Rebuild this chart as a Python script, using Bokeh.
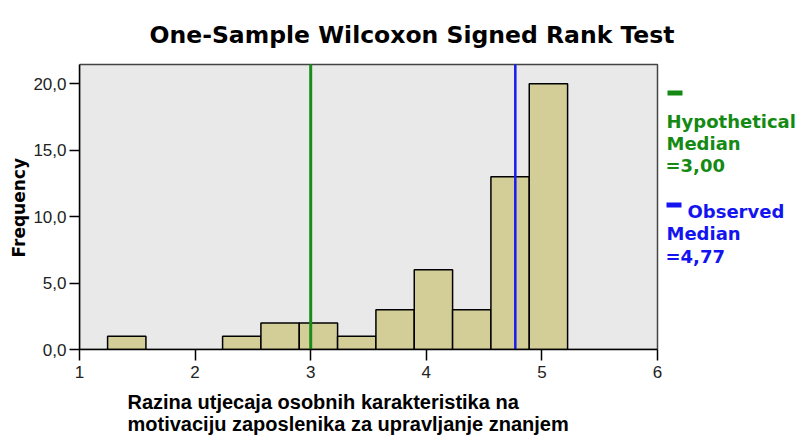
from bokeh.plotting import figure
from bokeh.models import Range1d, FixedTicker, Label, BoxAnnotation, Title
from bokeh.embed import file_html
from bokeh.resources import INLINE

# ---- data ----
bin_start = 1.243
bin_width = 0.3316
counts = [1, 0, 0, 1, 2, 2, 1, 3, 6, 3, 13, 20]
hypothetical_median = 3.00
observed_median = 4.77
x_ticks = [1, 2, 3, 4, 5, 6]
y_ticks = [0, 5, 10, 15, 20]
y_tick_labels = ["0,0", "5,0", "10,0", "15,0", "20,0"]
title_text = "One-Sample Wilcoxon Signed Rank Test"
x_label_lines = ["Razina utjecaja osobnih karakteristika na",
                 "motivaciju zaposlenika za upravljanje znanjem"]
y_label = "Frequency"
x_lo, x_hi = 1, 6
y_lo, y_hi = 0, 21.45

lefts = [bin_start + i * bin_width for i, c in enumerate(counts) if c > 0]
rights = [l + bin_width for l in lefts]
tops = [c for c in counts if c > 0]

# ---- layout ----
W, H = 803, 445
FL, FB = 79, 349            # frame left / bottom (px from top-left)
px_x = (657 - FL) / (x_hi - x_lo)
px_y = (FB - 64) / (y_hi - y_lo)
p = figure(width=W, height=H,
           x_range=Range1d(x_lo, x_lo + (W - FL) / px_x),
           y_range=Range1d(y_lo, y_lo + FB / px_y),
           output_backend="svg", toolbar_location=None,
           min_border_left=FL, min_border_right=0, min_border_top=0,
           min_border_bottom=H - FB)
p.background_fill_color = "white"
p.border_fill_color = "white"
p.outline_line_color = None
p.xgrid.visible = False
p.ygrid.visible = False

# plot area
p.quad(left=[x_lo], right=[x_hi], bottom=[y_lo], top=[y_hi],
       fill_color="#e9e9e9", line_color="#444444", line_width=1.5)
# histogram
p.quad(left=lefts, right=rights, top=tops, bottom=0,
       fill_color="#d3ce97", line_color="black", line_width=1.5)

green = "#148a14"
blue = "#1414f0"
p.segment(x0=[hypothetical_median], y0=[y_lo], x1=[hypothetical_median], y1=[y_hi],
          line_color="#1a8c1a", line_width=3)
p.segment(x0=[observed_median], y0=[y_lo], x1=[observed_median], y1=[y_hi],
          line_color="#1a1af0", line_width=2.5)

for ax in (p.xaxis[0], p.yaxis[0]):
    ax.axis_line_color = "black"
    ax.axis_line_width = 1.5
    ax.major_tick_line_color = "black"
    ax.major_tick_line_width = 1.5
    ax.major_tick_in = 0
    ax.minor_tick_line_color = None
    ax.major_label_text_font = "Liberation Sans"
    ax.major_label_text_font_size = "17px"
    ax.major_label_text_color = "#222222"

p.xaxis.bounds = (x_lo, x_hi)
p.xaxis.ticker = FixedTicker(ticks=x_ticks)
p.xaxis.major_tick_out = 11
p.xaxis.major_label_standoff = 5
p.yaxis.bounds = (y_lo, y_hi)
p.yaxis.ticker = FixedTicker(ticks=y_ticks)
p.yaxis.major_label_overrides = {float(t): s for t, s in zip(y_ticks, y_tick_labels)}
p.yaxis.major_tick_out = 10
p.yaxis.major_label_standoff = 3

# y axis title, centred on the plot area
p.add_layout(Title(text=y_label, align="left", offset=FB - 257,
                   text_font="DejaVu Sans", text_font_style="bold",
                   text_font_size="17px", text_color="black", standoff=4), "left")

# x axis title, two left-aligned lines
p.add_layout(Title(text="\n".join(x_label_lines), align="left", offset=127 - FL,
                   text_font="Liberation Sans", text_font_style="bold",
                   text_font_size="20px", text_color="black", text_line_height=1.0,
                   standoff=17), "below")

def sx(X):
    return X - FL
def sy(Y):
    return FB - Y

def lab(text, X, Y, font, size, color="black", align="left", style="bold"):
    p.add_layout(Label(x=sx(X), y=sy(Y), x_units="screen", y_units="screen", text=text,
                       text_font=font, text_font_size=size, text_font_style=style,
                       text_color=color, text_align=align, text_baseline="alphabetic"))

lab(title_text, 411.5, 34, "DejaVu Sans", "23.5px", align="center")

fmt = lambda v: "=" + f"{v:.2f}".replace(".", ",")
p.add_layout(BoxAnnotation(left=sx(667), right=sx(682), top=sy(90), bottom=sy(95),
                           left_units="screen", right_units="screen",
                           top_units="screen", bottom_units="screen",
                           fill_color=green, fill_alpha=1, line_color=None))
lab("Hypothetical", 666, 121, "DejaVu Sans", "18px", color=green)
lab("Median", 666, 143, "DejaVu Sans", "18px", color=green)
lab(fmt(hypothetical_median), 665, 165, "DejaVu Sans", "18px", color=green)

p.add_layout(BoxAnnotation(left=sx(666), right=sx(681), top=sy(202), bottom=sy(207),
                           left_units="screen", right_units="screen",
                           top_units="screen", bottom_units="screen",
                           fill_color=blue, fill_alpha=1, line_color=None))
lab("Observed", 687, 211, "DejaVu Sans", "18px", color=blue)
lab("Median", 666, 233, "DejaVu Sans", "18px", color=blue)
lab(fmt(observed_median), 665, 256, "DejaVu Sans", "18px", color=blue)

open("out.html", "w").write(file_html(p, INLINE))
